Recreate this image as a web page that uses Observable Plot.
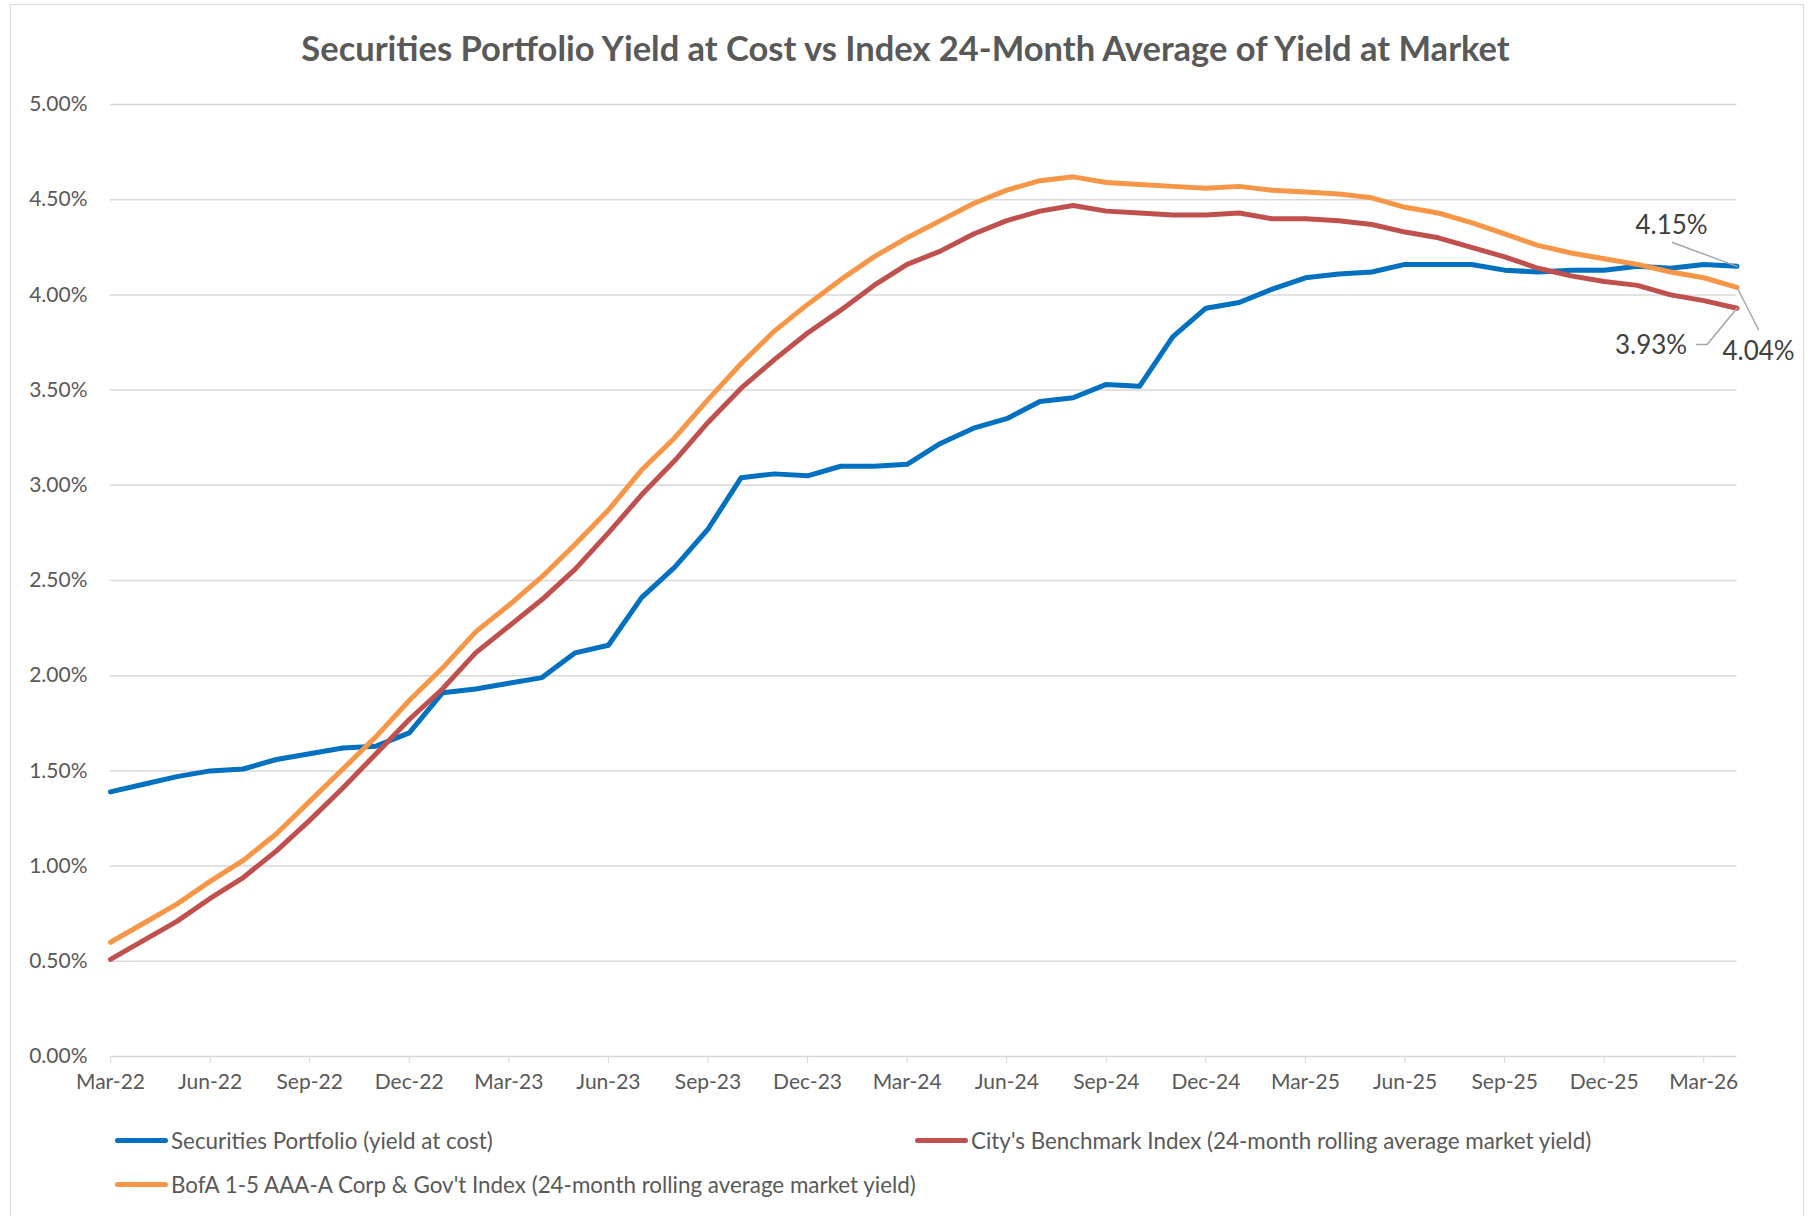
<!DOCTYPE html>
<html>
<head>
<meta charset="utf-8">
<script src="https://cdn.jsdelivr.net/npm/d3@7"></script>
<script src="https://cdn.jsdelivr.net/npm/@observablehq/plot@0.6"></script>
<style>
  html, body { margin: 0; padding: 0; background: #fff; width: 1811px; height: 1216px; overflow: hidden; }
  #frame { position: absolute; left: 10px; top: 4px; width: 1794px; height: 1240px; border: 1.5px solid #d9d9d9; box-sizing: border-box; }
  #title { position: absolute; left: 0; top: 0; width: 1811px; height: 96px; line-height: 96px; text-align: center;
           font-family: Lato, "Open Sans", sans-serif; font-weight: bold; font-size: 34.5px; color: #595959; }
  #chart { position: absolute; left: 0; top: 80px; }
  .leg { position: absolute; height: 30px; display: flex; align-items: center; font-family: Lato, "Open Sans", sans-serif;
         font-size: 22.4px; color: #595959; white-space: nowrap; }
  .sw { width: 53px; height: 5px; border-radius: 3px; margin-right: 3px; }
</style>
</head>
<body>
<div id="frame"></div>
<div id="title"></div>
<div id="chart"></div>
<div id="legend"></div>
<script>
// ---- data ----
const title = "Securities Portfolio Yield at Cost vs Index 24-Month Average of Yield at Market";
const months = [
  "Mar-22","Apr-22","May-22","Jun-22","Jul-22","Aug-22","Sep-22","Oct-22","Nov-22","Dec-22",
  "Jan-23","Feb-23","Mar-23","Apr-23","May-23","Jun-23","Jul-23","Aug-23","Sep-23","Oct-23",
  "Nov-23","Dec-23","Jan-24","Feb-24","Mar-24","Apr-24","May-24","Jun-24","Jul-24","Aug-24",
  "Sep-24","Oct-24","Nov-24","Dec-24","Jan-25","Feb-25","Mar-25","Apr-25","May-25","Jun-25",
  "Jul-25","Aug-25","Sep-25","Oct-25","Nov-25","Dec-25","Jan-26","Feb-26","Mar-26","Apr-26"
];
const portfolio = [
  1.39,1.43,1.47,1.50,1.51,1.56,1.59,1.62,1.63,1.70,
  1.91,1.93,1.96,1.99,2.12,2.16,2.41,2.57,2.77,3.04,
  3.06,3.05,3.10,3.10,3.11,3.22,3.30,3.35,3.44,3.46,
  3.53,3.52,3.78,3.93,3.96,4.03,4.09,4.11,4.12,4.16,
  4.16,4.16,4.13,4.12,4.13,4.13,4.15,4.14,4.16,4.15
];
const cityBenchmark = [
  0.51,0.61,0.71,0.83,0.94,1.08,1.24,1.41,1.59,1.77,
  1.93,2.12,2.26,2.40,2.56,2.75,2.95,3.13,3.33,3.51,
  3.66,3.80,3.92,4.05,4.16,4.23,4.32,4.39,4.44,4.47,
  4.44,4.43,4.42,4.42,4.43,4.40,4.40,4.39,4.37,4.33,
  4.30,4.25,4.20,4.14,4.10,4.07,4.05,4.00,3.97,3.93
];
const bofaIndex = [
  0.60,0.70,0.80,0.92,1.03,1.17,1.34,1.51,1.68,1.87,
  2.04,2.23,2.37,2.52,2.69,2.87,3.08,3.25,3.45,3.64,
  3.81,3.95,4.08,4.20,4.30,4.39,4.48,4.55,4.60,4.62,
  4.59,4.58,4.57,4.56,4.57,4.55,4.54,4.53,4.51,4.46,
  4.43,4.38,4.32,4.26,4.22,4.19,4.16,4.12,4.09,4.04
];
const seriesNames = [
  "Securities Portfolio (yield at cost)",
  "City's Benchmark Index (24-month rolling average market yield)",
  "BofA 1-5 AAA-A Corp & Gov't Index (24-month rolling average market yield)"
];
const seriesColors = ["#0070C0", "#C0504D", "#F79646"];
const yTicks = [0, 0.5, 1, 1.5, 2, 2.5, 3, 3.5, 4, 4.5, 5];
const xTickLabels = ["Mar-22","Jun-22","Sep-22","Dec-22","Mar-23","Jun-23","Sep-23","Dec-23","Mar-24","Jun-24","Sep-24","Dec-24","Mar-25","Jun-25","Sep-25","Dec-25","Mar-26"];

// ---- build ----
document.getElementById("title").textContent = title;
const seriesValues = [portfolio, cityBenchmark, bofaIndex];
const rows = seriesValues.flatMap((vals, s) => vals.map((v, i) => ({i, v, key: seriesNames[s]})));
const last = months.length - 1;
const xTicks = xTickLabels.map(l => months.indexOf(l));

// end-label annotation placement (offsets from the final point, in months / percentage points)
const labelPlace = [
  {label: [-1.97, 0.215], leader: [[-1.94, 0.125], [0, 0]]},
  {label: [-2.59, -0.196], leader: [[-1.22, -0.191], [-0.90, -0.191], [0, 0]]},
  {label: [0.65, -0.34], leader: [[0, 0], [0.65, -0.223]]}
];
const endLabels = seriesValues.map((vals, s) => ({
  i: last + labelPlace[s].label[0], v: vals[last] + labelPlace[s].label[1],
  text: vals[last].toFixed(2) + "%"
}));
const leaders = seriesValues.flatMap((vals, s) =>
  labelPlace[s].leader.map(([di, dv]) => ({i: last + di, v: vals[last] + dv, s})));

const chart = Plot.plot({
  width: 1811, height: 1040,
  marginTop: 24, marginBottom: 64, marginLeft: 110, marginRight: 74.5,
  style: {fontFamily: "Lato, 'Open Sans', sans-serif", fontSize: "21px", color: "#595959", background: "transparent", overflow: "visible"},
  x: {type: "linear", domain: [0, last]},
  y: {domain: [0, 5]},
  color: {domain: seriesNames, range: seriesColors},
  marks: [
    Plot.ruleY(yTicks, {stroke: "#d9d9d9", strokeWidth: 1.5}),
    Plot.axisX({ticks: xTicks, tickFormat: i => months[i], tickSize: 7, tickPadding: 11, stroke: "#d9d9d9", fill: "#595959", label: null}),
    Plot.axisY({ticks: yTicks, tickFormat: d => d.toFixed(2) + "%", tickSize: 0, tickPadding: 23, fill: "#595959", label: null}),
    Plot.line(rows, {x: "i", y: "v", z: "key", stroke: "key", strokeWidth: 5, strokeLinejoin: "round", strokeLinecap: "round"}),
    Plot.line(leaders, {x: "i", y: "v", z: "s", stroke: "#a6a6a6", strokeWidth: 1.5}),
    Plot.text(endLabels, {x: "i", y: "v", text: "text", fontSize: 26, fill: "#404040"})
  ]
});
document.getElementById("chart").appendChild(chart);

// legend
const legend = document.getElementById("legend");
const legPos = [[115, 1125], [915, 1125], [115, 1169]];
seriesNames.forEach((name, k) => {
  const d = document.createElement("div");
  d.className = "leg";
  d.style.left = legPos[k][0] + "px";
  d.style.top = legPos[k][1] + "px";
  const sw = document.createElement("div");
  sw.className = "sw";
  sw.style.background = seriesColors[k];
  const t = document.createElement("span");
  t.textContent = name;
  d.appendChild(sw); d.appendChild(t);
  legend.appendChild(d);
});
</script>
</body>
</html>
